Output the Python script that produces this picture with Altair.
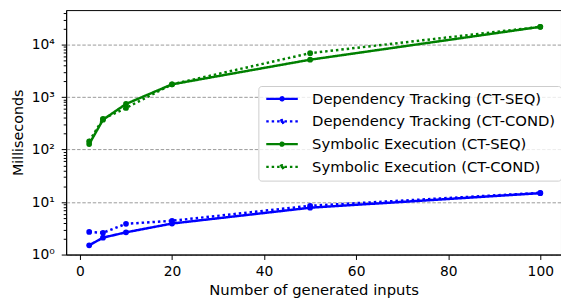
import altair as alt
import pandas as pd

inputs = [2, 5, 10, 20, 50, 100]
dt_seq = [1.5, 2.1, 2.65, 3.9, 7.8, 14.8]
dt_cond = [2.7, 2.6, 3.85, 4.4, 8.5, 15.0]
se_seq = [127, 370, 740, 1750, 5150, 21800]
se_cond = [144, 385, 620, 1750, 6870, 21800]

series_names = [
    "Dependency Tracking (CT-SEQ)",
    "Dependency Tracking (CT-COND)",
    "Symbolic Execution (CT-SEQ)",
    "Symbolic Execution (CT-COND)",
]
series_colors = ["#0000ff", "#0000ff", "#008000", "#008000"]
series_dash = [[1, 0], [2.5, 3.0], [1, 0], [2.5, 3.0]]

rows = []
for name, vals in zip(series_names, [dt_seq, dt_cond, se_seq, se_cond]):
    for x, v in zip(inputs, vals):
        rows.append({"inputs": x, "ms": v, "series": name})
df = pd.DataFrame(rows)

major_ticks = [1, 10, 100, 1000, 10000]
minor_ticks = [m * 10 ** k for k in range(0, 5) for m in range(2, 10) if m * 10 ** k < 45400]
y_values = sorted(major_ticks + minor_ticks)

is_major = "abs(log(datum.value)/LN10 - round(log(datum.value)/LN10)) < 1e-6"

# legend glyphs: a line with a dot in the middle (unit box scaled by 5px)
dot = "M2.52,0 A0.32,0.32 0 1,1 1.88,0 A0.32,0.32 0 1,1 2.52,0 Z"
solid_glyph = "M-1,0 L5.4,0 " + dot
dotted_glyph = ("M-1,0 L-0.5,0 M0.1,0 L0.6,0 M1.2,0 L1.7,0 M2.7,0 L3.2,0 "
                "M3.8,0 L4.3,0 M4.9,0 L5.4,0 " + dot)
series_glyphs = [solid_glyph, dotted_glyph, solid_glyph, dotted_glyph]

legend = alt.Legend(
    title=None,
    orient="none",
    legendX=195,
    legendY=77,
    symbolSize=100,
    symbolStrokeWidth=2.3,
    labelFont="DejaVu Sans",
    labelFontSize=15,
    labelColor="#000",
    labelLimit=400,
    labelOffset=34,
    rowPadding=7,
    padding=5.5,
    fillColor="rgba(255,255,255,0.8)",
    strokeColor="#cccccc",
    cornerRadius=3,
)

color_scale = alt.Scale(domain=series_names, range=series_colors)

x_enc = alt.X(
    "inputs:Q",
    scale=alt.Scale(domain=[-3, 104.5], nice=False, zero=False),
    axis=alt.Axis(
        title="Number of generated inputs",
        values=[0, 20, 40, 60, 80, 100],
        grid=False,
        tickSize=5,
        tickColor="#000",
        domainColor="#000",
        labelFont="DejaVu Sans",
        labelFontSize=14,
        labelColor="#000",
        labelPadding=5,
        titleFont="DejaVu Sans",
        titleFontSize=15,
        titleFontWeight="normal",
        titleColor="#000",
        titleBaseline="alphabetic",
        titleY=41,
    ),
)
y_enc = alt.Y(
    "ms:Q",
    scale=alt.Scale(type="log", domain=[1, 45400], nice=False),
    axis=alt.Axis(
        title="Milliseconds",
        values=y_values,
        labelExpr="datum.value == 1 ? '10⁰' : datum.value == 10 ? '10¹' : datum.value == 100 ? '10²' : datum.value == 1000 ? '10³' : datum.value == 10000 ? '10⁴' : ''",
        grid=True,
        gridDash=[3.5, 1.8],
        gridColor="#999999",
        gridWidth=1,
        gridOpacity={"condition": {"test": is_major, "value": 1}, "value": 0},
        tickSize={"condition": {"test": is_major, "value": 5}, "value": 3},
        tickColor="#000",
        domainColor="#000",
        labelFont="DejaVu Sans",
        labelFontSize=14,
        labelColor="#000",
        labelPadding=7,
        titleFont="DejaVu Sans",
        titleFontSize=14.5,
        titleFontWeight="normal",
        titleColor="#000",
        titleBaseline="alphabetic",
        titleX=-44,
        titleY=124,
        titleAngle=270,
    ),
)

base = alt.Chart(df)
legend_layer = (
    base.transform_filter("false")
    .mark_point(filled=True, opacity=1, strokeWidth=2.3)
    .encode(
        x=x_enc,
        y=y_enc,
        color=alt.Color("series:N", scale=color_scale, legend=legend),
        stroke=alt.Stroke(
            "series:N", scale=alt.Scale(domain=series_names, range=series_colors), legend=legend
        ),
        shape=alt.Shape(
            "series:N", scale=alt.Scale(domain=series_names, range=series_glyphs), legend=legend
        ),
    )
)
lines = base.mark_line(strokeWidth=2.5, strokeCap="butt").encode(
    x=x_enc,
    y=y_enc,
    color=alt.Color("series:N", scale=color_scale, legend=None),
    strokeDash=alt.StrokeDash(
        "series:N", scale=alt.Scale(domain=series_names, range=series_dash), legend=None
    ),
)
points = base.mark_point(filled=True, size=34, opacity=1).encode(
    x=x_enc, y=y_enc, color=alt.Color("series:N", scale=color_scale, legend=None)
)

chart = (
    alt.layer(legend_layer, lines, points)
    .properties(
        width=502,
        height=248,
        autosize=alt.AutoSizeParams(type="none"),
        padding={"left": 59, "top": 0, "right": 0, "bottom": 46},
    )
    .configure_view(stroke="#000", strokeWidth=1)
)

chart.save("out.html", embed_options={"renderer": "svg", "actions": False})
